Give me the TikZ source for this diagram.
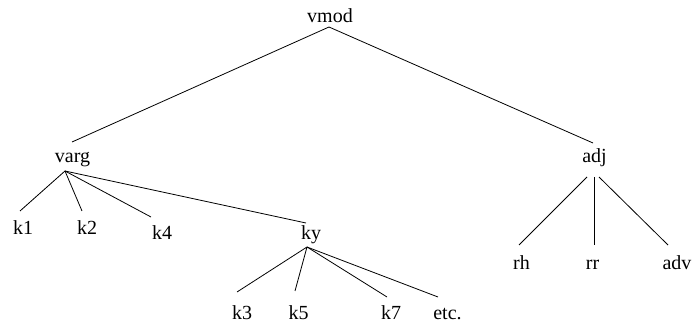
\documentclass[tikz,border=0pt]{standalone}
\usepackage{fontspec}
\setmainfont{Liberation Serif}
\begin{document}
\begin{tikzpicture}[x=1pt,y=-1pt,
  lbl/.style={anchor=base,inner sep=0pt,font=\fontsize{20}{24}\selectfont},
  edge/.style={line width=0.8pt,black}]
\useasboundingbox (0,0) rectangle (693,328);
% nodes
\node[lbl] (vmod) at (330,23) {vmod};
\node[lbl] (varg) at (72.5,163) {varg};
\node[lbl] (adj) at (594.5,163) {adj};
\node[lbl] (k1) at (23,235) {k1};
\node[lbl] (k2) at (87,235) {k2};
\node[lbl] (k4) at (162,240) {k4};
\node[lbl] (ky) at (311,240) {ky};
\node[lbl] (k3) at (242,320) {k3};
\node[lbl] (k5) at (298.5,320) {k5};
\node[lbl] (k7) at (391,320) {k7};
\node[lbl] (etc) at (447.5,320) {etc.};
\node[lbl] (rh) at (521.5,270) {rh};
\node[lbl] (rr) at (592.5,270) {rr};
\node[lbl] (adv) at (677,270) {adv};
% connectors
\draw[edge] ([shift={(-1,4)}]vmod.base) -- ([shift={(-0.5,-21)}]varg.base);
\draw[edge] ([shift={(-1,4)}]vmod.base) -- ([shift={(-1.5,-20)}]adj.base);
\draw[edge] ([shift={(-7.5,8)}]varg.base) -- ([shift={(-3,-24)}]k1.base);
\draw[edge] ([shift={(-7.5,8)}]varg.base) -- ([shift={(-5,-24)}]k2.base);
\draw[edge] ([shift={(-7.5,8)}]varg.base) -- ([shift={(-11,-23)}]k4.base);
\draw[edge] ([shift={(-7.5,8)}]varg.base) -- ([shift={(-5,-17)}]ky.base);
\draw[edge] ([shift={(-4,7)}]ky.base) -- ([shift={(-5,-28)}]k3.base);
\draw[edge] ([shift={(-4,7)}]ky.base) -- ([shift={(-3.5,-29)}]k5.base);
\draw[edge] ([shift={(-4,7)}]ky.base) -- ([shift={(-4,-23)}]k7.base);
\draw[edge] ([shift={(-4,7)}]ky.base) -- ([shift={(-9.5,-23)}]etc.base);
\draw[edge] ([shift={(-7.5,14)}]adj.base) -- ([shift={(-2.5,-25)}]rh.base);
\draw[edge] ([shift={(-0.5,14)}]adj.base) -- ([shift={(1.5,-25)}]rr.base);
\draw[edge] ([shift={(4.5,14)}]adj.base) -- ([shift={(-9,-25)}]adv.base);
\end{tikzpicture}
\end{document}
